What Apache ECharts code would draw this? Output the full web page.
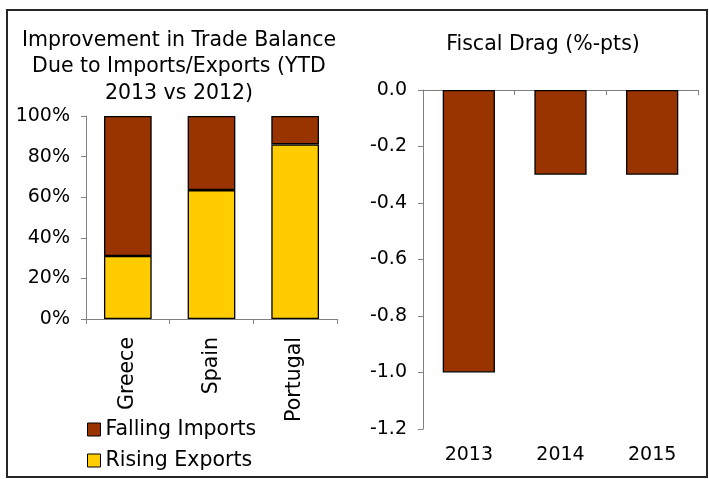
<!DOCTYPE html>
<html>
<head>
<meta charset="utf-8">
<script src="https://cdn.jsdelivr.net/npm/echarts@6/dist/echarts.min.js"></script>
<style>
  html, body { margin: 0; padding: 0; background: #fff; }
  #chart { width: 709px; height: 479px; }
</style>
</head>
<body>
<div id="chart"></div>
<script>
// Trade balance improvement shares (percent)
const countries = ['Greece', 'Spain', 'Portugal'];
const risingExports = [31, 63.5, 86];
const fallingImports = [69, 36.5, 14];

// Fiscal drag (%-pts)
const years = ['2013', '2014', '2015'];
const fiscalDrag = [-1.0, -0.3, -0.3];

const FONT = 'DejaVu Sans, Verdana, sans-serif';
const FS = 19;      // numeric labels
const FS_TXT = 20.5; // word labels, titles, legend
const BROWN = '#993300';
const YELLOW = '#FFCC00';
const AXIS = '#808080';
const TXT = '#000';

const chart = echarts.init(document.getElementById('chart'), null, { renderer: 'canvas' });

chart.setOption({
  animation: false,
  backgroundColor: '#fff',
  textStyle: { fontFamily: FONT },
  graphic: [{
    type: 'rect',
    shape: { x: 7, y: 10, width: 700, height: 467 },
    style: { fill: 'none', stroke: '#262626', lineWidth: 2 },
    silent: true,
    z: 100
  }],
  title: [{
    text: 'Improvement in Trade Balance\nDue to Imports/Exports (YTD\n2013 vs 2012)',
    left: 174,
    top: 22,
    textAlign: 'center',
    textStyle: { fontFamily: FONT, fontSize: FS_TXT, fontWeight: 'normal', color: TXT, lineHeight: 26.5 }
  }, {
    text: 'Fiscal Drag (%-pts)',
    left: 538,
    top: 27,
    textAlign: 'center',
    textStyle: { fontFamily: FONT, fontSize: FS_TXT, fontWeight: 'normal', color: TXT, lineHeight: 26 }
  }],
  legend: {
    data: ['Falling Imports', 'Rising Exports'],
    orient: 'vertical',
    left: 82,
    top: 414,
    itemWidth: 13,
    itemHeight: 13,
    itemGap: 10,
    icon: 'rect',
    itemStyle: { borderColor: '#000', borderWidth: 1 },
    textStyle: { fontFamily: FONT, fontSize: FS_TXT, color: TXT }
  },
  grid: [
    { left: 86, top: 116, width: 251, height: 203 },
    { left: 423, top: 90, width: 275, height: 339 }
  ],
  xAxis: [{
    gridIndex: 0,
    type: 'category',
    data: countries,
    axisLine: { lineStyle: { color: AXIS } },
    axisTick: { show: true, length: 5, alignWithLabel: false, lineStyle: { color: AXIS } },
    axisLabel: { rotate: 90, margin: 18, fontFamily: FONT, fontSize: FS_TXT, color: TXT }
  }, {
    gridIndex: 1,
    type: 'category',
    data: years,
    position: 'top',
    axisLine: { onZero: false, lineStyle: { color: AXIS } },
    axisTick: { show: true, inside: true, length: 5, lineStyle: { color: AXIS } },
    axisLabel: { show: false }
  }, {
    gridIndex: 1,
    type: 'category',
    data: years,
    position: 'bottom',
    axisLine: { show: false },
    axisTick: { show: false },
    axisLabel: { margin: 17, fontFamily: FONT, fontSize: FS, color: TXT }
  }],
  yAxis: [{
    gridIndex: 0,
    type: 'value',
    min: 0,
    max: 100,
    interval: 20,
    axisLine: { show: true, lineStyle: { color: AXIS } },
    axisTick: { show: true, length: 5, lineStyle: { color: AXIS } },
    splitLine: { show: false },
    axisLabel: { margin: 16, fontFamily: FONT, fontSize: FS, color: TXT, formatter: '{value}%' }
  }, {
    gridIndex: 1,
    type: 'value',
    min: -1.2,
    max: 0,
    interval: 0.2,
    axisLine: { show: true, lineStyle: { color: AXIS } },
    axisTick: { show: true, length: 5, lineStyle: { color: AXIS } },
    splitLine: { show: false },
    axisLabel: { margin: 16, fontFamily: FONT, fontSize: FS, color: TXT,
      formatter: v => v.toFixed(1) }
  }],
  series: [{
    name: 'Rising Exports',
    type: 'bar',
    stack: 'trade',
    xAxisIndex: 0,
    yAxisIndex: 0,
    data: risingExports,
    barWidth: '57%',
    itemStyle: { color: YELLOW, borderColor: '#000', borderWidth: 1.3 }
  }, {
    name: 'Falling Imports',
    type: 'bar',
    stack: 'trade',
    xAxisIndex: 0,
    yAxisIndex: 0,
    data: fallingImports,
    barWidth: '57%',
    itemStyle: { color: BROWN, borderColor: '#000', borderWidth: 1.3 }
  }, {
    name: 'Fiscal Drag',
    type: 'bar',
    xAxisIndex: 1,
    yAxisIndex: 1,
    data: fiscalDrag,
    barWidth: '57%',
    itemStyle: { color: BROWN, borderColor: '#000', borderWidth: 1.3 }
  }]
});
</script>
</body>
</html>
